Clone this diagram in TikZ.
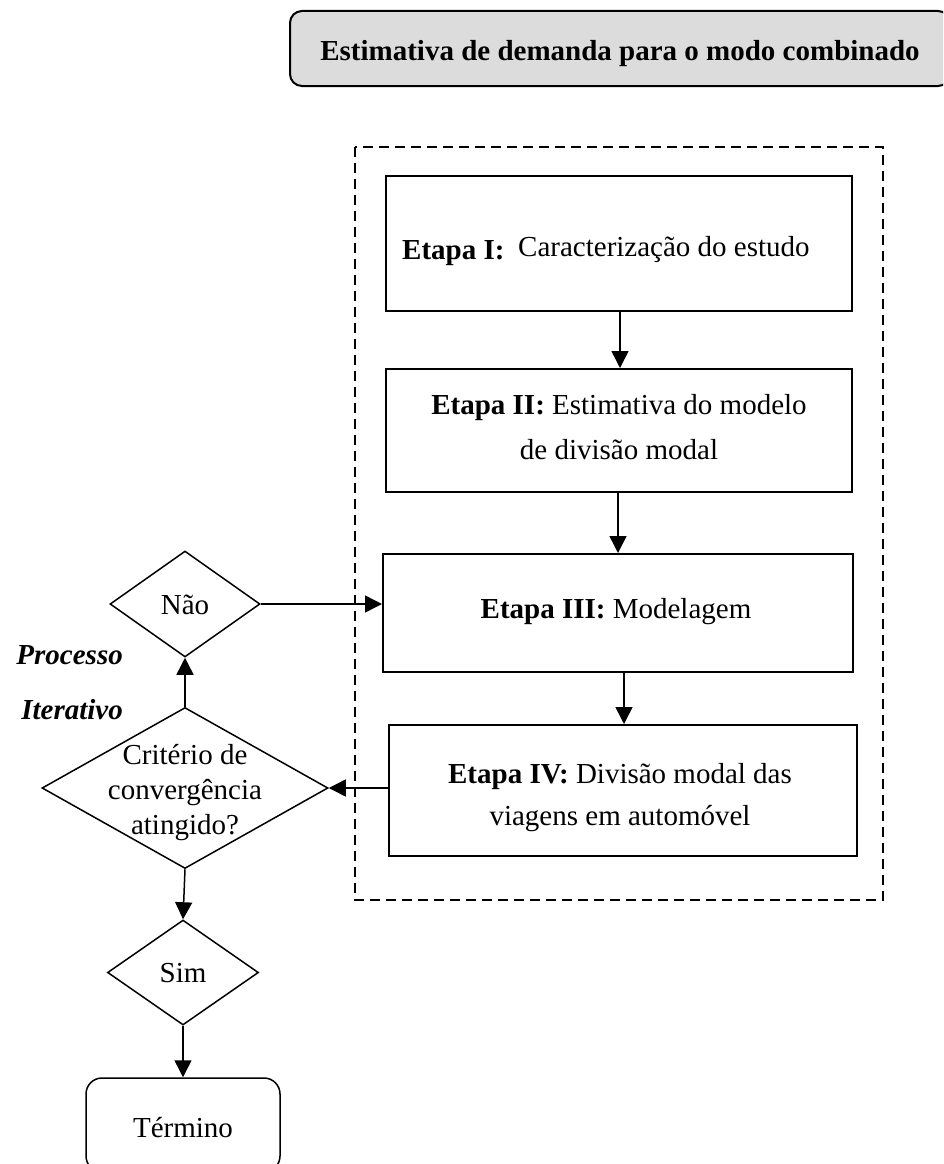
\documentclass[tikz,border=0pt]{standalone}
\usepackage{fontspec}
\setmainfont{Liberation Serif}
\usetikzlibrary{shapes.geometric,arrows.meta}
\definecolor{titlegray}{RGB}{220,220,220}
\begin{document}
\begin{tikzpicture}[x=1pt,y=-1pt,
  every node/.style={font=\fontsize{29}{35}\selectfont, inner sep=0pt},
  stepbox/.style={draw, line width=2pt},
  decision/.style={draw, diamond, line width=1.5pt, inner sep=0pt},
  endbox/.style={draw, line width=1.5pt, rounded corners=16pt},
  flow/.style={line width=1.5pt, -{Triangle[length=17pt,width=17pt]}},
  frame/.style={line width=2pt, dash pattern=on 10pt off 6pt},
  label/.style={anchor=base},
]
\clip (0,0) rectangle (943,1164);
\useasboundingbox (0,0) rectangle (943,1164);

% heading bar
\node[draw, line width=2pt, fill=titlegray, rounded corners=12pt,
      minimum width=660pt, minimum height=75pt] (title) at (620,48.5) {};
\node[label] (titletext) at (620,60) {\bfseries Estimativa de demanda para o modo combinado};

% dashed frame around the four stages
\draw[frame] (355,147) rectangle (883,900);

% stages
\node[stepbox, minimum width=466pt, minimum height=135pt] (s1) at (619,243.5) {};
\node[label, anchor=base west] (s1a) at (402,259) {\bfseries Etapa I:};
\node[label, anchor=base west] (s1b) at (518,256) {Caracterização do estudo};

\node[stepbox, minimum width=466pt, minimum height=123pt] (s2) at (619,430.5) {};
\node[label] (s2a) at (619,414) {\textbf{Etapa II:} Estimativa do modelo};
\node[label] (s2b) at (619,459) {de divisão modal};

\node[stepbox, minimum width=470pt, minimum height=118pt] (s3) at (618,613) {};
\node[label] (s3a) at (616,618) {\textbf{Etapa III:} Modelagem};

\node[stepbox, minimum width=468pt, minimum height=131pt] (s4) at (623,790.5) {};
\node[label] (s4a) at (620,783) {\textbf{Etapa IV:} Divisão modal das};
\node[label] (s4b) at (620,825) {viagens em automóvel};

% decisions
\node[decision, minimum width=150pt, minimum height=106pt] (nao) at (185,604) {};
\node[label] (naot) at (185,614) {Não};

\node[decision, minimum width=286pt, minimum height=161pt] (crit) at (185,788) {};
\node[align=center] (critt) at (185,793) {Critério de\\convergência\\atingido?};

\node[decision, minimum width=151pt, minimum height=105pt] (sim) at (183,972.5) {};
\node[label] (simt) at (183,982) {Sim};

\node[endbox, minimum width=194pt, minimum height=94pt] (term) at (183,1125) {};
\node[label] (termt) at (183,1137) {Término};

% loop caption
\node[anchor=base east] (proc) at (123,664) {\bfseries\itshape Processo};
\node[anchor=base east] (iter) at (123,719) {\bfseries\itshape Iterativo};

% connectors
\draw[flow] (s1.south -| 620,0) -- (s2.north -| 620,0);
\draw[flow] (s2.south -| 618,0) -- (s3.north -| 618,0);
\draw[flow] (s3.south -| 624,0) -- (s4.north -| 624,0);
\draw[flow] (nao.east) -- (nao.east -| s3.west);
\draw[flow] (crit.east -| s4.west) -- (crit.east);
\draw[flow] (crit.north) -- (nao.south);
\draw[flow] (crit.south) -- (sim.north);
\draw[flow] (sim.south) -- (term.north);
\end{tikzpicture}
\end{document}
